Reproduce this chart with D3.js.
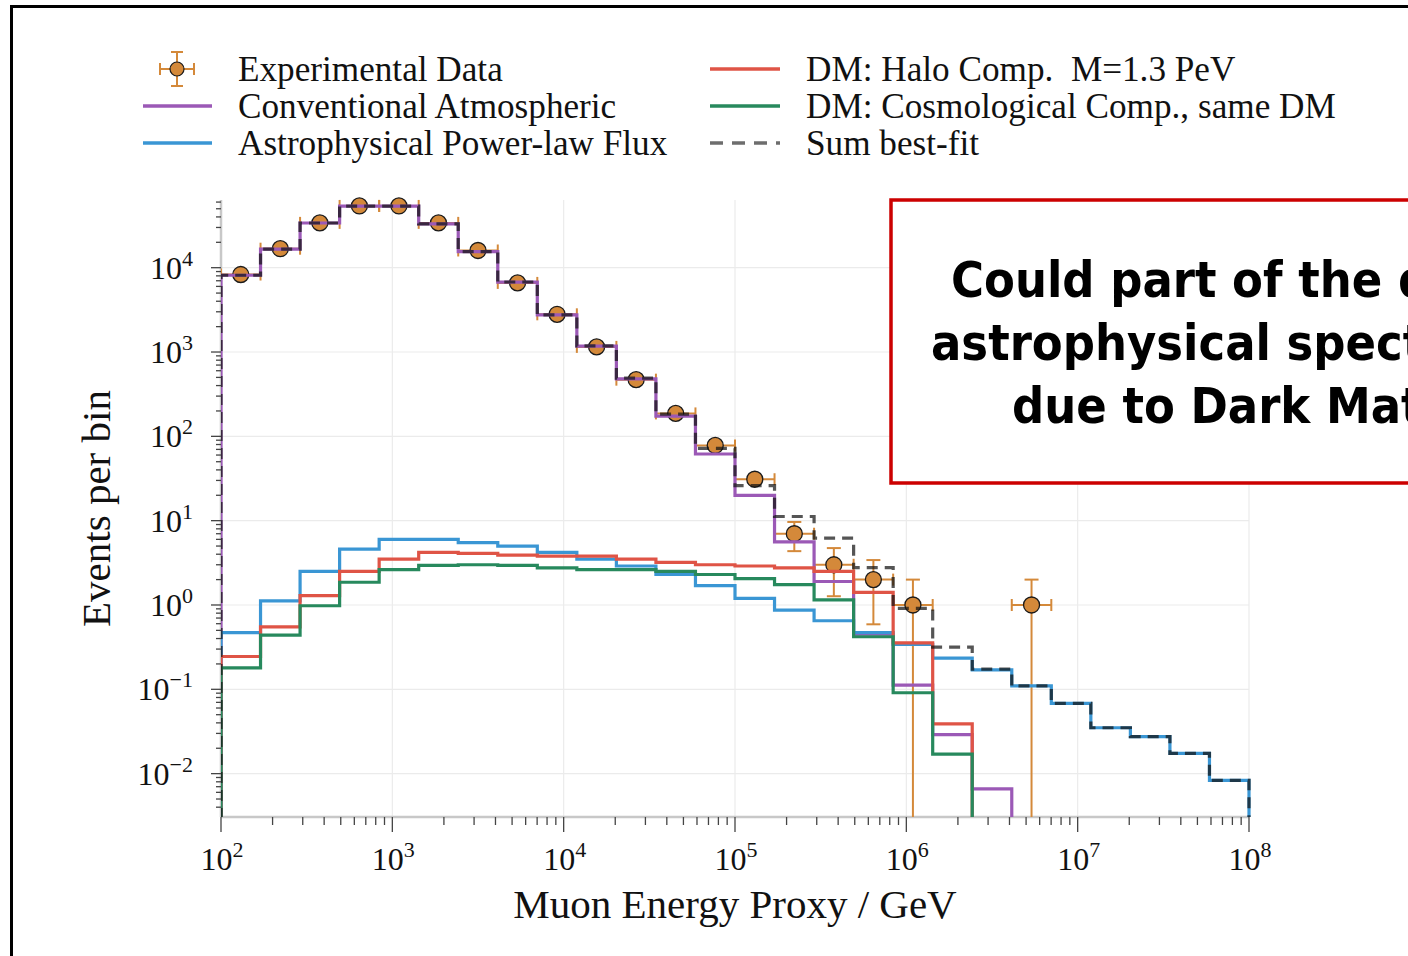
<!DOCTYPE html>
<html>
<head>
<meta charset="utf-8">
<title>dm spectrum</title>
<style>
    body {
        margin: 0;
        background: #ffffff;
    }
    svg text {
        font-family: "Liberation Serif", "Times New Roman", serif;
        fill: #111111;
    }
    .box-text {
        font-family: "DejaVu Sans Condensed", "DejaVu Sans", sans-serif;
        font-weight: bold;
        font-size: 50px;
        fill: #000000;
    }
    .grid line { stroke: #ebebeb; stroke-width: 1.2; }
    .hist { fill: none; stroke-width: 3.2; stroke-linejoin: miter; }
</style>
</head>
<body>
<svg id="chart" width="1408" height="956"></svg>
<script src="https://d3js.org/d3.v7.min.js"></script>
<script>
// 26 log-spaced bins from 1e2 to 1e8 GeV
const binLo = 1e2, binHi = 1e8, nBins = 26;

const conventional = [8130, 16600, 33900, 53700, 53700, 33100, 15500, 6760, 2750, 1175, 479, 174,
    61.7, 20, 5.6, 1.9, 0.45, 0.112, 0.029, 0.0066, 0, 0, 0, 0, 0, 0];
const astrophysical = [0.47, 1.12, 2.5, 4.6, 6.0, 6.0, 5.5, 5.0, 4.2, 3.5, 2.9, 2.3,
    1.7, 1.2, 0.87, 0.65, 0.47, 0.34, 0.234, 0.17, 0.11, 0.068, 0.035, 0.0275, 0.0174, 0.0083];
const haloDM = [0.245, 0.55, 1.29, 2.5, 3.5, 4.2, 4.1, 3.9, 3.8, 3.8, 3.5, 3.2,
    3.0, 2.9, 2.75, 2.5, 1.41, 0.355, 0.039, 0, 0, 0, 0, 0, 0, 0];
const cosmoDM = [0.18, 0.44, 0.98, 1.86, 2.63, 2.95, 3.0, 2.95, 2.75, 2.63, 2.63, 2.5,
    2.3, 2.05, 1.74, 1.15, 0.42, 0.091, 0.017, 0, 0, 0, 0, 0, 0, 0];
const sumBestFit = [8140, 16600, 33900, 53700, 53700, 33100, 15500, 6770, 2760, 1185, 489, 183,
    72, 26, 11.2, 6.2, 2.78, 0.91, 0.316, 0.174, 0.11, 0.068, 0.035, 0.0275, 0.0174, 0.0083];
const dataCounts = [8300, 16800, 34000, 54000, 54000, 34000, 16000, 6600, 2800, 1150, 470, 187,
    78, 31, 7, 3, 2, 1, 0, 0, 1, 0, 0, 0, 0, 0];
const dataErr = [91, 130, 184, 232, 232, 184, 126, 81, 53, 34, 22, 13.7,
    8.8, 5.6, 2.65, 1.73, 1.41, 1, 0, 0, 1, 0, 0, 0, 0, 0];

const xTickExps = [2, 3, 4, 5, 6, 7, 8];
const yTickExps = [-2, -1, 0, 1, 2, 3, 4];

const legendLeft = ['Experimental Data', 'Conventional Atmospheric', 'Astrophysical Power-law Flux'];
const legendRight = ['DM: Halo Comp.  M=1.3 PeV', 'DM: Cosmological Comp., same DM', 'Sum best-fit'];
const boxLines = ['Could part of the diffuse', 'astrophysical spectrum be', 'due to Dark Matter?'];

const colors = {
    conv: '#9b59b6',
    astro: '#3a96d4',
    halo: '#df5446',
    cosmo: '#27895d',
    data: '#d4893a'
};

const svg = d3.select('#chart');

// page frame
svg.append('path')
    .attr('d', 'M11.5,960 L11.5,6.5 L1420,6.5')
    .attr('fill', 'none')
    .attr('stroke', '#000')
    .attr('stroke-width', 3);

const plot = { left: 221, right: 1249, top: 200, bottom: 817 };

const x = d3.scaleLog().domain([binLo, binHi]).range([plot.left, plot.right]);
const y = d3.scaleLog().domain([3.06e-3, 6.35e4]).range([plot.bottom, plot.top]);

const edges = d3.range(nBins + 1).map(k => Math.pow(10, 2 + k * 6 / nBins));

svg.append('clipPath').attr('id', 'plotclip')
    .append('rect')
    .attr('x', plot.left).attr('y', plot.top - 10)
    .attr('width', plot.right - plot.left + 4).attr('height', plot.bottom - plot.top + 10);

// grid
const grid = svg.append('g').attr('class', 'grid');
xTickExps.slice(1).forEach(e => {
    grid.append('line')
        .attr('x1', x(Math.pow(10, e))).attr('x2', x(Math.pow(10, e)))
        .attr('y1', plot.top).attr('y2', plot.bottom);
});
yTickExps.forEach(e => {
    grid.append('line')
        .attr('x1', plot.left).attr('x2', plot.right)
        .attr('y1', y(Math.pow(10, e))).attr('y2', y(Math.pow(10, e)));
});

// spines
svg.append('line')
    .attr('x1', plot.left).attr('x2', plot.right)
    .attr('y1', plot.bottom).attr('y2', plot.bottom)
    .attr('stroke', '#c8c8c8').attr('stroke-width', 2.5);
svg.append('line')
    .attr('x1', plot.left).attr('x2', plot.left)
    .attr('y1', plot.top).attr('y2', plot.bottom)
    .attr('stroke', '#c8c8c8').attr('stroke-width', 2.5);

// ticks
const ticks = svg.append('g').attr('stroke', '#444').attr('stroke-width', 1.3);
for (let e = 2; e <= 8; e++) {
    const v = Math.pow(10, e);
    ticks.append('line').attr('x1', x(v)).attr('x2', x(v))
        .attr('y1', plot.bottom).attr('y2', plot.bottom + 15);
    if (e < 8) {
        for (let k = 2; k <= 9; k++) {
            ticks.append('line').attr('x1', x(k * v)).attr('x2', x(k * v))
                .attr('y1', plot.bottom).attr('y2', plot.bottom + 8);
        }
    }
}
const yDom = y.domain();
for (let e = -3; e <= 4; e++) {
    const v = Math.pow(10, e);
    if (v >= yDom[0] && v <= yDom[1]) {
        ticks.append('line').attr('x1', plot.left - 10).attr('x2', plot.left)
            .attr('y1', y(v)).attr('y2', y(v));
    }
    for (let k = 2; k <= 9; k++) {
        if (k * v >= yDom[0] && k * v <= yDom[1]) {
            ticks.append('line').attr('x1', plot.left - 5).attr('x2', plot.left)
                .attr('y1', y(k * v)).attr('y2', y(k * v));
        }
    }
}

// tick labels
function powLabel(g, e) {
    g.append('tspan').text('10');
    g.append('tspan').attr('dy', -13).attr('font-size', 22).text(e < 0 ? '\u2212' + (-e) : e);
}
xTickExps.forEach(e => {
    const t = svg.append('text')
        .attr('x', x(Math.pow(10, e)) + 1).attr('y', 870)
        .attr('text-anchor', 'middle').attr('font-size', 32);
    powLabel(t, e);
});
yTickExps.forEach(e => {
    const t = svg.append('text')
        .attr('x', 193).attr('y', y(Math.pow(10, e)) + 11)
        .attr('text-anchor', 'end').attr('font-size', 32);
    powLabel(t, e);
});

// axis titles
svg.append('text')
    .attr('x', (plot.left + plot.right) / 2).attr('y', 918)
    .attr('text-anchor', 'middle').attr('font-size', 41)
    .text('Muon Energy Proxy / GeV');
svg.append('text')
    .attr('transform', `translate(110, ${(plot.top + plot.bottom) / 2}) rotate(-90)`)
    .attr('text-anchor', 'middle').attr('font-size', 41)
    .text('Events per bin');

const body = svg.append('g').attr('clip-path', 'url(#plotclip)');

// experimental data (drawn below the curves)
const dataG = body.append('g').attr('stroke', colors.data).attr('stroke-width', 2);
dataCounts.forEach((n, i) => {
    if (n <= 0) return;
    const cx = x(Math.sqrt(edges[i] * edges[i + 1]));
    const cy = y(n);
    const lo = n - dataErr[i] > 0 ? y(n - dataErr[i]) : plot.bottom + 20;
    const hi = y(n + dataErr[i]);
    dataG.append('line').attr('x1', x(edges[i])).attr('x2', x(edges[i + 1])).attr('y1', cy).attr('y2', cy);
    dataG.append('line').attr('x1', x(edges[i])).attr('x2', x(edges[i])).attr('y1', cy - 6).attr('y2', cy + 6);
    dataG.append('line').attr('x1', x(edges[i + 1])).attr('x2', x(edges[i + 1])).attr('y1', cy - 6).attr('y2', cy + 6);
    dataG.append('line').attr('x1', cx).attr('x2', cx).attr('y1', hi).attr('y2', lo);
    if (hi < cy - 8) {
        dataG.append('line').attr('x1', cx - 7).attr('x2', cx + 7).attr('y1', hi).attr('y2', hi);
    }
    if (n - dataErr[i] > 0 && lo > cy + 8) {
        dataG.append('line').attr('x1', cx - 7).attr('x2', cx + 7).attr('y1', lo).attr('y2', lo);
    }
    body.append('circle').attr('cx', cx).attr('cy', cy).attr('r', 8)
        .attr('fill', colors.data).attr('stroke', '#1a1a1a').attr('stroke-width', 1.3);
});

// step histograms
function stepPoints(vals) {
    const segs = [];
    let cur = null;
    vals.forEach((v, i) => {
        const x0 = x(edges[i]), x1 = x(edges[i + 1]);
        if (v > 0) {
            if (!cur) { cur = [[x0, plot.bottom + 20]]; segs.push(cur); }
            cur.push([x0, y(v)], [x1, y(v)]);
        } else if (cur) {
            cur.push([x0, plot.bottom + 20]);
            cur = null;
        }
    });
    if (cur) cur.push([x(edges[nBins]), plot.bottom + 20]);
    return segs;
}
const line = d3.line();
function drawHist(vals, color, extra) {
    stepPoints(vals).forEach(seg => {
        const p = body.append('path').attr('class', 'hist')
            .attr('d', line(seg)).attr('stroke', color);
        if (extra) extra(p);
    });
}
drawHist(conventional, colors.conv);
drawHist(astrophysical, colors.astro);
drawHist(haloDM, colors.halo);
drawHist(cosmoDM, colors.cosmo);
drawHist(sumBestFit, 'rgba(20,20,20,0.72)', p => p.attr('stroke-dasharray', '11,7').attr('stroke-width', 3.5));

// legend
const leg = svg.append('g');
const lg = leg.append('g').attr('stroke', colors.data).attr('stroke-width', 2);
lg.append('line').attr('x1', 160).attr('x2', 194).attr('y1', 69).attr('y2', 69);
lg.append('line').attr('x1', 160).attr('x2', 160).attr('y1', 63).attr('y2', 75);
lg.append('line').attr('x1', 194).attr('x2', 194).attr('y1', 63).attr('y2', 75);
lg.append('line').attr('x1', 177).attr('x2', 177).attr('y1', 52).attr('y2', 86);
lg.append('line').attr('x1', 171).attr('x2', 183).attr('y1', 52).attr('y2', 52);
lg.append('line').attr('x1', 171).attr('x2', 183).attr('y1', 86).attr('y2', 86);
leg.append('circle').attr('cx', 177).attr('cy', 69).attr('r', 7)
    .attr('fill', colors.data).attr('stroke', '#1a1a1a').attr('stroke-width', 1.2);
[colors.conv, colors.astro].forEach((c, i) => {
    leg.append('line').attr('x1', 143).attr('x2', 212)
        .attr('y1', 106 + i * 37).attr('y2', 106 + i * 37)
        .attr('stroke', c).attr('stroke-width', 3.5);
});
[colors.halo, colors.cosmo, 'rgba(20,20,20,0.62)'].forEach((c, i) => {
    const l = leg.append('line').attr('x1', 710).attr('x2', 780)
        .attr('y1', 69 + i * 37).attr('y2', 69 + i * 37)
        .attr('stroke', c).attr('stroke-width', 3.5);
    if (i === 2) l.attr('stroke-dasharray', '13,9');
});
legendLeft.forEach((t, i) => {
    leg.append('text').attr('x', 238).attr('y', 81 + i * 37)
        .attr('font-size', 35.2).attr('xml:space', 'preserve').text(t);
});
legendRight.forEach((t, i) => {
    leg.append('text').attr('x', 806).attr('y', 81 + i * 37)
        .attr('font-size', 35.2).attr('xml:space', 'preserve').text(t);
});

// question box
svg.append('rect')
    .attr('x', 891).attr('y', 200).attr('width', 700).attr('height', 283)
    .attr('fill', '#ffffff').attr('stroke', '#cc0000').attr('stroke-width', 3.5);
const boxX = [951, 931, 1012];
boxLines.forEach((t, i) => {
    svg.append('text').attr('class', 'box-text')
        .attr('x', boxX[i]).attr('y', 297 + i * 63)
        .text(t);
});
</script>
</body>
</html>
